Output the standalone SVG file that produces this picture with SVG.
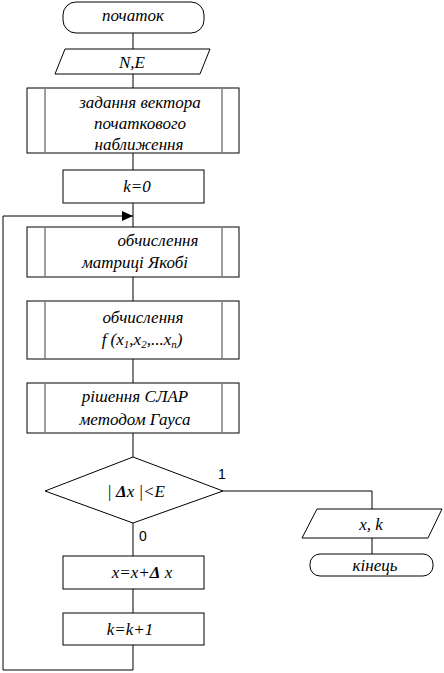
<svg xmlns="http://www.w3.org/2000/svg" width="444" height="673" viewBox="0 0 444 673">
<style>
.s{fill:#fff;stroke:#000;stroke-width:1}
.in{stroke:#808080;stroke-width:1.5;fill:none}
.c{fill:none;stroke:#000;stroke-width:1}
text{font-family:"Liberation Serif","Times New Roman",serif;font-style:italic;font-size:17px;fill:#000;text-anchor:middle}
.lab{font-family:"Liberation Sans",Arial,sans-serif;font-style:normal;font-size:14px;text-anchor:start}
.b{font-weight:bold}
.sub{font-size:11px}
</style>
<defs>
<marker id="ah" markerWidth="12" markerHeight="10" refX="11" refY="5" orient="auto" markerUnits="userSpaceOnUse">
<path d="M0,0 L11,5 L0,10 Z" fill="#000"/>
</marker>
</defs>
<rect width="444" height="673" fill="#fff"/>
<g id="connectors">
<path class="c" d="M133,33 V49"/>
<path class="c" d="M133,74 V88"/>
<path class="c" d="M133,153 V170"/>
<path class="c" d="M133,203 V227"/>
<path class="c" d="M133,277 V301"/>
<path class="c" d="M133,359 V383"/>
<path class="c" d="M133,433 V457"/>
<path class="c" d="M223,491 H372 V509"/>
<path class="c" d="M372,538 V554"/>
<path class="c" d="M133,523 V556"/>
<path class="c" d="M133,589 V613"/>
<path class="c" d="M133,645 V670 H3 V216 H133" marker-end="url(#ah)"/>
<text class="lab" x="218" y="479">1</text>
<text class="lab" x="139" y="541">0</text>
</g>
<g id="start">
<rect class="s" x="63" y="2" width="141" height="31" rx="13"/>
<text x="133" y="21">початок</text>
</g>
<g id="input">
<path class="s" d="M65,49 H210 L200,74 H55 Z"/>
<text x="132" y="68">N,E</text>
</g>
<g id="init">
<rect class="s" x="27" y="88" width="212" height="65"/>
<path class="in" d="M45,88 V153 M222,88 V153"/>
<text x="140" y="108">задання вектора</text>
<text x="140" y="129">початкового</text>
<text x="139" y="150">наближення</text>
</g>
<g id="k0">
<rect class="s" x="63" y="170" width="141" height="33"/>
<text x="137" y="192">k=0</text>
</g>
<g id="jacobi">
<rect class="s" x="27" y="227" width="212" height="50"/>
<path class="in" d="M45,227 V277 M222,227 V277"/>
<text x="158" y="246">обчислення</text>
<text x="135" y="268">матриці Якобі</text>
</g>
<g id="func">
<rect class="s" x="27" y="301" width="212" height="58"/>
<path class="in" d="M45,301 V359 M222,301 V359"/>
<text x="143" y="323">обчислення</text>
<text x="142" y="345">f (x<tspan class="sub" dy="3">1</tspan><tspan dy="-3">,x</tspan><tspan class="sub" dy="3">2</tspan><tspan dy="-3">,...x</tspan><tspan class="sub" dy="3">n</tspan><tspan dy="-3">)</tspan></text>
</g>
<g id="gauss">
<rect class="s" x="27" y="383" width="212" height="50"/>
<path class="in" d="M45,383 V433 M222,383 V433"/>
<text x="135" y="402">рішення СЛАР</text>
<text x="135" y="425">методом Гауса</text>
</g>
<g id="cond">
<path class="s" d="M133,457 L223,491 L133,523 L45,491 Z"/>
<text x="136" y="497">| <tspan class="b">Δ</tspan>x |&lt;E</text>
</g>
<g id="output">
<path class="s" d="M317,509 H442 L428,538 H302 Z"/>
<text x="371" y="530">x, k</text>
</g>
<g id="end">
<rect class="s" x="310" y="554" width="123" height="22" rx="10"/>
<text x="375" y="571">кінець</text>
</g>
<g id="update">
<rect class="s" x="63" y="556" width="141" height="33"/>
<text x="142" y="578">x=x+<tspan class="b">Δ</tspan> x</text>
</g>
<g id="inc">
<rect class="s" x="63" y="613" width="141" height="32"/>
<text x="130" y="635">k=k+1</text>
</g>
</svg>
